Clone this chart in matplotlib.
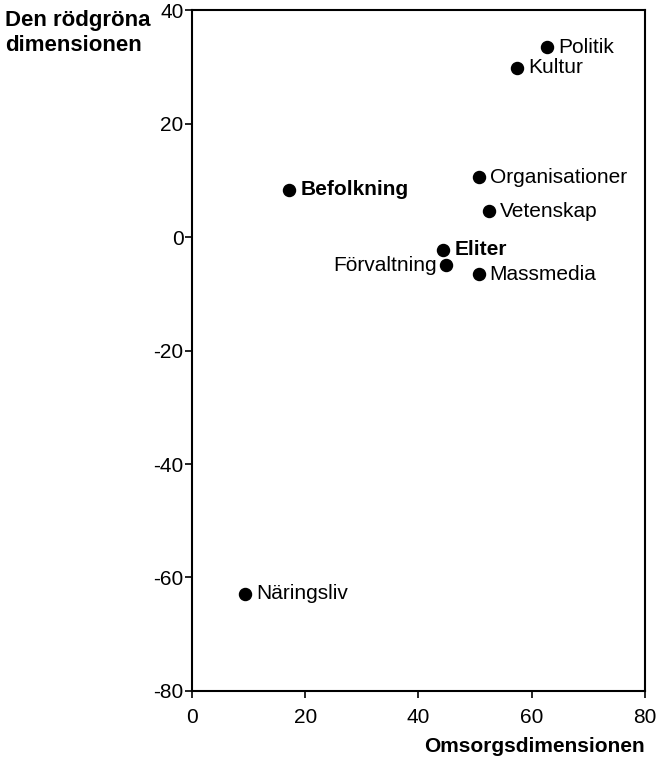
import matplotlib
matplotlib.use("Agg")
import matplotlib.pyplot as plt

plt.rcParams['font.family'] = ['Liberation Sans', 'DejaVu Sans']
plt.rcParams['axes.unicode_minus'] = False

labels = ["Politik", "Kultur", "Befolkning", "Organisationer", "Vetenskap",
          "Eliter", "Förvaltning", "Massmedia", "Näringsliv"]
x_vals = [62.7, 57.4, 17.2, 50.7, 52.5, 44.4, 44.9, 50.6, 9.4]
y_vals = [33.4, 29.8, 8.3, 10.5, 4.5, -2.2, -5.0, -6.6, -62.9]
bold = ["Befolkning", "Eliter"]
left_side = ["Förvaltning"]

x_ticks = [0, 20, 40, 60, 80]
y_ticks = [40, 20, 0, -20, -40, -60, -80]

fig = plt.figure(figsize=(6.58, 7.6), dpi=100)
ax = fig.add_axes([0.2918, 0.0908, 0.6884, 0.896])
ax.scatter(x_vals, y_vals, s=75, color='black', zorder=3)
for lab, xv, yv in zip(labels, x_vals, y_vals):
    w = 'bold' if lab in bold else 'normal'
    if lab in left_side:
        ax.annotate(lab, (xv, yv), xytext=(-7, 0), textcoords='offset points',
                    ha='right', va='center', fontsize=15, fontweight=w)
    else:
        ax.annotate(lab, (xv, yv), xytext=(8, 0), textcoords='offset points',
                    ha='left', va='center', fontsize=15, fontweight=w)

ax.set_xlim(0, 80)
ax.set_ylim(-80, 40)
ax.set_xticks(x_ticks)
ax.set_yticks(y_ticks)
ax.tick_params(direction='out', length=5, width=1.2, labelsize=15, color='black',
               top=False, right=False)
ax.tick_params(axis='y', pad=1)
ax.tick_params(axis='x', pad=7)
for sp in ax.spines.values():
    sp.set_linewidth(1.5)

fig.text(645/658, 1 - 747/760, "Omsorgsdimensionen", ha='right', va='center',
         fontsize=15, fontweight='bold')
fig.text(5/658, 1 - 33/760, "Den rödgröna\ndimensionen", ha='left', va='center',
         fontsize=16, fontweight='bold', linespacing=1.2)

fig.savefig("out.png", dpi=100)
